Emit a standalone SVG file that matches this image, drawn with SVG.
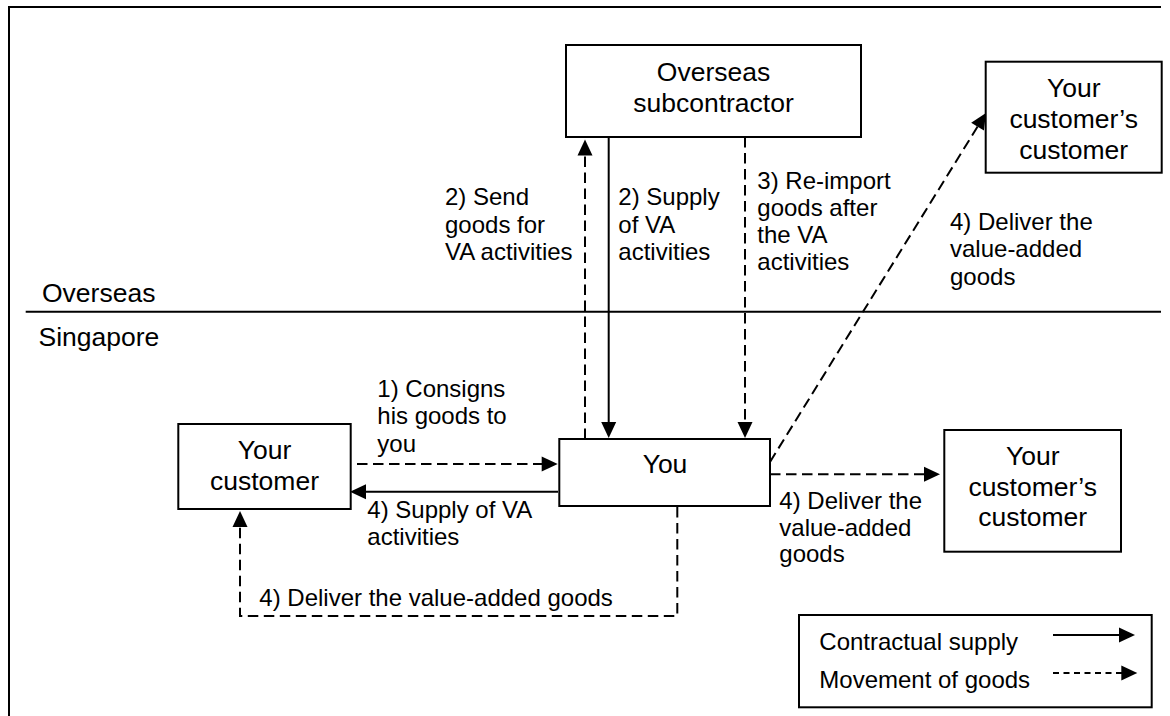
<svg xmlns="http://www.w3.org/2000/svg" width="1170" height="716" viewBox="0 0 1170 716">
<style>
  .box { fill: #fff; stroke: #000; stroke-width: 2; }
  .frame { fill: none; stroke: #000; stroke-width: 2; }
  .lbl { font-family: "Liberation Sans", Arial, sans-serif; font-size: 26.5px; fill: #000; }
  .nl { font-family: "Liberation Sans", Arial, sans-serif; font-size: 26.5px; fill: #000; text-anchor: middle; }
  .el { font-family: "Liberation Sans", Arial, sans-serif; font-size: 24px; fill: #000; }
  .solid { fill: none; stroke: #000; stroke-width: 2; marker-end: url(#ah); }
  .dash { fill: none; stroke: #000; stroke-width: 2; stroke-dasharray: 10.5 5.5; marker-end: url(#ah); }
  .dashl { fill: none; stroke: #000; stroke-width: 2; stroke-dasharray: 6 4.5; marker-end: url(#ah); }
</style>
<defs>
  <marker id="ah" markerUnits="userSpaceOnUse" markerWidth="16" markerHeight="15" refX="13" refY="7.5" orient="auto" overflow="visible">
    <path d="M0,0 L16,7.5 L0,15 Z" fill="#000"/>
  </marker>
</defs>
<rect width="1170" height="716" fill="#fff"/>

<g id="frame">
  <path class="frame" d="M9,716 L9,7 L1161,7"/>
  <line x1="25.7" y1="311.7" x2="1161" y2="311.7" stroke="#000" stroke-width="2"/>
  <text class="lbl" x="42" y="301.5">Overseas</text>
  <text class="lbl" x="38.5" y="346">Singapore</text>
</g>

<g id="connectors">
  <path class="dash" d="M585,439 L585,142.5"/>
  <path class="solid" d="M608.7,137 L608.7,435"/>
  <path class="dash" d="M745,137 L745,435"/>
  <path class="dash" d="M770,462 L984.4,115.6"/>
  <path class="dash" d="M357,464 L554.7,464"/>
  <path class="solid" d="M558,491.7 L353,491.7"/>
  <path class="dash" d="M677.3,507 L677.3,616 L240,616 L240,514"/>
  <path class="dash" d="M770,474.3 L937,474.3"/>
</g>

<g id="edge-labels">
  <text class="el" x="445" y="205">2) Send</text>
  <text class="el" x="445" y="232.5">goods for</text>
  <text class="el" x="445" y="260">VA activities</text>

  <text class="el" x="618.3" y="205">2) Supply</text>
  <text class="el" x="618.3" y="232.5">of VA</text>
  <text class="el" x="618.3" y="260">activities</text>

  <text class="el" x="757.3" y="188.5">3) Re-import</text>
  <text class="el" x="757.3" y="215.8">goods after</text>
  <text class="el" x="757.3" y="243.1">the VA</text>
  <text class="el" x="757.3" y="270.4">activities</text>

  <text class="el" x="950" y="229.5">4) Deliver the</text>
  <text class="el" x="950" y="257">value-added</text>
  <text class="el" x="950" y="284.5">goods</text>

  <text class="el" x="377.3" y="396.5">1) Consigns</text>
  <text class="el" x="377.3" y="424">his goods to</text>
  <text class="el" x="377.3" y="451.5">you</text>

  <text class="el" x="367.3" y="518">4) Supply of VA</text>
  <text class="el" x="367.3" y="545">activities</text>

  <text class="el" x="259.3" y="605.7">4) Deliver the value-added goods</text>

  <text class="el" x="779.3" y="509">4) Deliver the</text>
  <text class="el" x="779.3" y="536">value-added</text>
  <text class="el" x="779.3" y="562">goods</text>
</g>

<g id="node-subcontractor">
  <rect class="box" x="566" y="45" width="295" height="92"/>
  <text class="nl" x="713.5" y="81">Overseas</text>
  <text class="nl" x="713.5" y="112">subcontractor</text>
</g>

<g id="node-customers-customer-overseas">
  <rect class="box" x="985.7" y="61.7" width="176" height="111"/>
  <text class="nl" x="1073.7" y="97">Your</text>
  <text class="nl" x="1073.7" y="128">customer’s</text>
  <text class="nl" x="1073.7" y="159">customer</text>
</g>

<g id="node-your-customer">
  <rect class="box" x="178.3" y="424" width="172.4" height="85"/>
  <text class="nl" x="264.5" y="459">Your</text>
  <text class="nl" x="264.5" y="490">customer</text>
</g>

<g id="node-you">
  <rect class="box" x="559.3" y="439" width="210.7" height="67"/>
  <text class="nl" x="665" y="473">You</text>
</g>

<g id="node-customers-customer-sg">
  <rect class="box" x="944.3" y="430" width="176.7" height="121.7"/>
  <text class="nl" x="1032.7" y="465">Your</text>
  <text class="nl" x="1032.7" y="495.5">customer’s</text>
  <text class="nl" x="1032.7" y="526">customer</text>
</g>

<g id="legend">
  <rect class="box" x="799" y="615" width="352.7" height="92.3"/>
  <text class="el" x="819.3" y="650">Contractual supply</text>
  <text class="el" x="819.3" y="688.3">Movement of goods</text>
  <path class="solid" d="M1053,635 L1132,635"/>
  <path class="dashl" d="M1053,673 L1134.3,673"/>
</g>
</svg>
